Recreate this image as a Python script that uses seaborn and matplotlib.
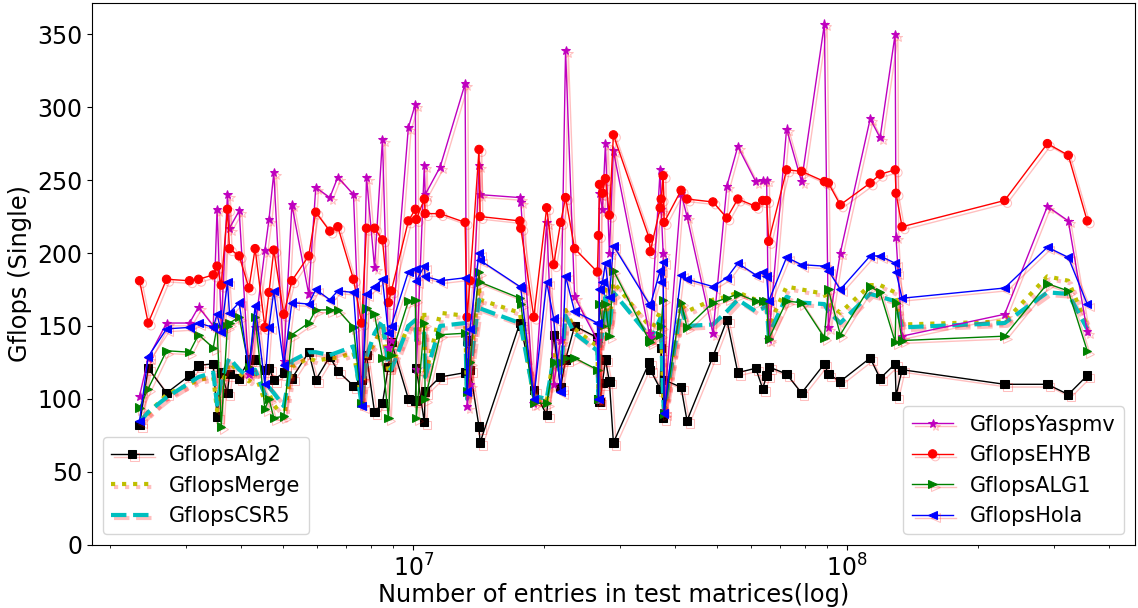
import matplotlib.pyplot as plt
import matplotlib.patheffects as pe
import numpy as np
import seaborn as sns

# number of nonzeros per test matrix (millions)
nnz_m = [2.34, 2.45, 2.70, 3.05, 3.20, 3.46, 3.53, 3.61, 3.73, 3.77, 3.97, 4.18, 4.32, 4.55,
         4.65, 4.77, 5.03, 5.25, 5.74, 5.96, 6.42, 6.70, 7.28, 7.60, 7.80, 8.14, 8.49, 8.76,
         8.90, 9.74, 10.11, 10.16, 10.60, 10.65, 11.53, 13.16, 13.30, 13.51, 14.17, 14.25,
         17.60, 17.69, 18.95, 20.29, 21.06, 21.85, 22.43, 23.53, 26.56, 26.70, 26.85, 27.28,
         27.71, 28.30, 28.91, 34.97, 35.15, 37.05, 37.25, 37.64, 37.84, 41.40, 42.73, 49.02,
         52.79, 55.94, 61.52, 63.83, 65.19, 65.89, 72.46, 78.43, 88.55, 90.44, 96.35, 112.9,
         119.0, 128.9, 129.5, 133.7, 230.4, 289.1, 323.0, 357.1]

gflops_alg2 = [82, 121, 104, 116, 123, 124, 88, 118, 104, 117, 114, 127, 127, 120, 121, 113,
               118, 114, 132, 113, 129, 119, 109, 113, 130, 91, 97, 122, 139, 100, 99, 121, 84,
               105, 115, 118, 140, 120, 81, 70, 152, 150, 106, 89, 144, 108, 127, 150, 142, 100,
               98, 111, 127, 112, 70, 125, 120, 107, 135, 87, 113, 108, 85, 129, 154, 118, 121,
               107, 116, 122, 117, 104, 124, 117, 112, 128, 114, 124, 102, 120, 110, 110, 103, 116]
gflops_merge = [84, 90, 103, 110, 113, 115, 92, 110, 120, 125, 118, 112, 118, 98, 104, 96, 87,
                122, 128, 126, 128, 128, 132, 100, 130, 138, 150, 118, 122, 150, 150, 140, 160,
                115, 159, 157, 100, 125, 177, 168, 159, 155, 100, 98, 130, 120, 161, 148, 136,
                100, 140, 150, 175, 150, 180, 150, 145, 160, 150, 100, 90, 165, 160, 168, 170,
                173, 168, 167, 167, 150, 177, 175, 172, 165, 159, 178, 178, 173, 170, 151, 153,
                184, 181, 150]
gflops_csr5 = [84, 91, 101, 111, 115, 118, 96, 112, 125, 128, 120, 115, 120, 103, 108, 104, 95,
               126, 132, 132, 130, 132, 136, 96, 129, 145, 154, 122, 120, 150, 154, 140, 145,
               115, 150, 152, 100, 120, 168, 162, 152, 150, 102, 100, 128, 118, 157, 145, 133,
               98, 135, 145, 170, 148, 173, 143, 140, 155, 145, 100, 92, 162, 150, 151, 160,
               168, 160, 162, 164, 144, 170, 166, 165, 160, 152, 172, 170, 167, 165, 149, 152,
               173, 172, 148]
gflops_yaspmv = [102, 128, 152, 152, 163, 150, 230, 150, 240, 217, 229, 117, 149, 202, 223, 255,
                 126, 233, 172, 245, 238, 252, 240, 97, 252, 190, 278, 135, 140, 286, 302, 120,
                 260, 240, 259, 316, 95, 110, 260, 240, 238, 235, 97, 221, 110, 140, 339, 170,
                 140, 100, 241, 230, 275, 200, 270, 145, 142, 257, 230, 200, 92, 241, 225, 145,
                 246, 273, 249, 250, 250, 141, 285, 249, 357, 149, 200, 292, 279, 350, 211, 143,
                 158, 232, 222, 146]
gflops_ehyb = [181, 152, 182, 181, 182, 185, 191, 178, 230, 203, 198, 176, 203, 149, 173, 202,
               158, 181, 198, 228, 215, 218, 182, 152, 217, 217, 209, 166, 174, 222, 230, 223,
               237, 227, 227, 221, 156, 181, 271, 225, 222, 217, 156, 231, 192, 221, 238, 203,
               187, 212, 247, 241, 251, 226, 281, 210, 201, 231, 237, 253, 221, 243, 237, 235,
               224, 237, 232, 236, 236, 208, 257, 256, 249, 248, 233, 248, 254, 257, 241, 218,
               236, 275, 267, 222]
gflops_alg1 = [94, 107, 133, 132, 144, 135, 150, 81, 150, 152, 156, 122, 156, 93, 100, 87, 88,
               144, 152, 161, 161, 161, 149, 97, 162, 158, 128, 87, 130, 167, 168, 87, 152, 100,
               144, 145, 105, 125, 187, 180, 169, 165, 97, 97, 125, 125, 128, 128, 120, 100, 165,
               150, 165, 143, 188, 140, 139, 144, 150, 168, 90, 166, 149, 166, 169, 172, 167, 167,
               167, 141, 167, 166, 142, 175, 144, 177, 173, 139, 166, 140, 143, 179, 174, 133]
gflops_hola = [85, 129, 148, 149, 152, 149, 158, 146, 180, 159, 166, 119, 164, 110, 149, 174,
               123, 166, 165, 175, 168, 174, 173, 95, 172, 177, 182, 145, 150, 187, 189, 181, 191,
               184, 181, 183, 105, 148, 200, 195, 177, 176, 100, 180, 155, 105, 184, 160, 152,
               100, 175, 180, 193, 170, 205, 165, 164, 188, 180, 194, 90, 185, 182, 177, 183, 193,
               185, 187, 184, 167, 197, 192, 191, 188, 175, 198, 198, 193, 187, 169, 176, 204,
               197, 165]

nnz = np.array(nnz_m) * 1e6

series = [
    ("GflopsAlg2", gflops_alg2, "k", "s", "-", 1.0, 6),
    ("GflopsMerge", gflops_merge, "y", "", ":", 3.0, 0),
    ("GflopsCSR5", gflops_csr5, "c", "", "--", 3.0, 0),
    ("GflopsYaspmv", gflops_yaspmv, "m", "*", "-", 1.0, 6.5),
    ("GflopsEHYB", gflops_ehyb, "r", "o", "-", 1.0, 6),
    ("GflopsALG1", gflops_alg1, "g", ">", "-", 1.0, 6),
    ("GflopsHola", gflops_hola, "b", "<", "-", 1.0, 6),
]

fig, ax = plt.subplots(figsize=(11.38, 6.08), dpi=100)
fig.subplots_adjust(left=0.081, right=0.997, bottom=0.104, top=0.995)

shadow = [pe.SimpleLineShadow(shadow_color="r", alpha=0.25), pe.Normal()]

for name, vals, color, marker, ls, lw, ms in series:
    kw = dict(marker=marker, markersize=ms, markeredgecolor=color) if marker else {}
    sns.lineplot(x=nnz, y=vals, ax=ax, color=color, linestyle=ls, linewidth=lw,
                 label=name, path_effects=shadow, **kw)

ax.set_xscale("log")
ax.set_ylim(bottom=0)
ax.set_xlabel("Number of entries in test matrices(log)", fontsize=17.4, labelpad=1)
ax.set_ylabel("Gflops (Single)", fontsize=17.4)
ax.tick_params(labelsize=17)

handles, labels = ax.get_legend_handles_labels()
leg1 = ax.legend(handles[:3], labels[:3], loc="lower left", fontsize=15)
ax.add_artist(leg1)
ax.legend(handles[3:], labels[3:], loc="lower right", fontsize=15)

fig.savefig("out.png", dpi=100)
